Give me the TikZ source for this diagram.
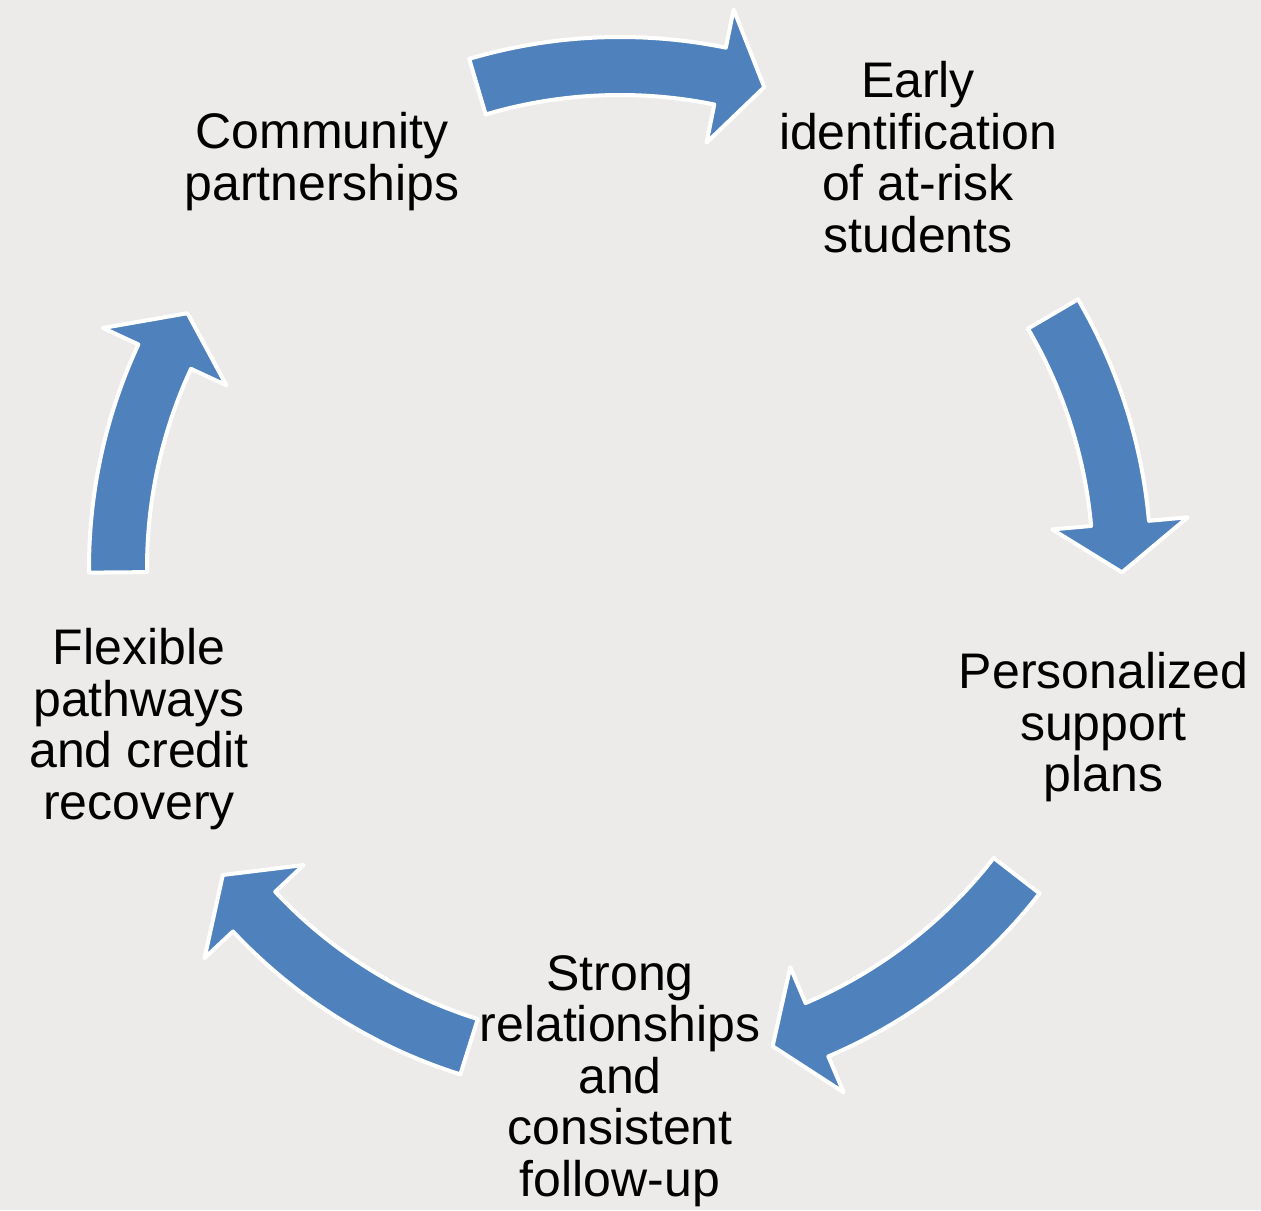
\documentclass[tikz,border=0pt]{standalone}
\usepackage{fontspec}
\setmainfont{Liberation Sans}
\definecolor{bgcol}{HTML}{ECEBE9}
\definecolor{arrowblue}{HTML}{4F81BD}
\newcommand{\cycArrow}[3]{%
  \path[cyclearrow] (#1:531) arc[start angle=#1, end angle=#2, radius=531]
    -- (#2:570) -- (#3:502) -- (#2:434) -- (#2:473)
    arc[start angle=#2, end angle=#1, radius=473] -- cycle;}
\begin{document}
\begin{tikzpicture}[x=0.5pt,y=0.5pt,
  cyclearrow/.style={fill=arrowblue, draw=white, line width=2pt, line join=round},
  steplabel/.style={font=\fontsize{25}{25.75}\selectfont, align=center, inner sep=0pt, anchor=north}]
\fill[bgcol] (0,0) rectangle (1261,1210);
\useasboundingbox (0,0) rectangle (1261,1210);
\begin{scope}[shift={(620,642)}]
  \cycArrow{106.5}{78.5}{73.3}
  \cycArrow{30.4}{5.1}{-0.5}
  \cycArrow{-37.8}{-66.9}{-72.3}
  \cycArrow{-107.5}{-136.8}{-142.3}
  \cycArrow{180.5}{155.1}{149.5}
\end{scope}
\node[steplabel] (early) at (918,1149) {Early\\identification\\of at-risk\\students};
\node[steplabel] (personal) at (1103.5,558) {Personalized\\support\\plans};
\node[steplabel] (strong) at (620,255) {Strong\\relationships\\and\\consistent\\follow-up};
\node[steplabel] (flexible) at (139,582) {Flexible\\pathways\\and credit\\recovery};
\node[steplabel] (community) at (322,1098) {Community\\partnerships};
\end{tikzpicture}
\end{document}
